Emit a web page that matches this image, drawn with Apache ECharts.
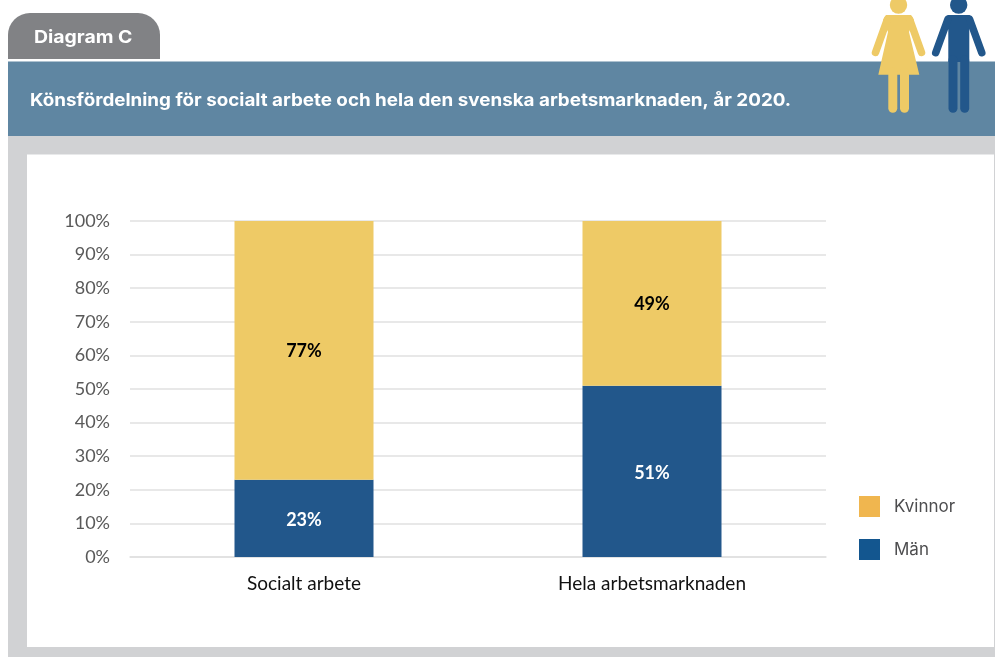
<!DOCTYPE html>
<html>
<head>
<meta charset="utf-8">
<title>Diagram C</title>
<style>html,body{margin:0;padding:0;background:#fff}#chart{width:995px;height:657px}</style>
<script src="https://cdn.jsdelivr.net/npm/echarts@6/dist/echarts.min.js"></script>
</head>
<body>
<div id="chart"></div>
<script>
const categories = ['Socialt arbete', 'Hela arbetsmarknaden'];
const men = [23, 51];
const women = [77, 49];
const seriesNames = ['Kvinnor', 'Män'];
const tabLabel = 'Diagram C';
const heading = 'Könsfördelning för socialt arbete och hela den svenska arbetsmarknaden, år 2020.';

const WOMAN = '#EECA66', MAN = '#22578B';
const sans = 'Inter, "Liberation Sans", Arial, sans-serif';
const chartFont = 'Lato, "Open Sans", sans-serif';

const limb = (x1, y1, x2, y2, color, width) => ({
  type: 'line', z: 5,
  shape: { x1, y1, x2, y2 },
  style: { stroke: color, lineWidth: width, lineCap: 'round' }
});
const head = (cx, color) => ({
  type: 'circle', z: 5, shape: { cx, cy: 5, r: 8.7 }, style: { fill: color }
});

const chart = echarts.init(document.getElementById('chart'), null, { renderer: 'canvas' });
chart.setOption({
  animation: false,
  backgroundColor: '#fff',
  graphic: { elements: [
    // page furniture: tab, heading band, grey frame, white panel
    { type: 'rect', z: -10, shape: { x: 8, y: 13, width: 152, height: 46, r: [22, 22, 0, 0] }, style: { fill: '#818285' } },
    { type: 'text', z: -9, x: 34, y: 37.5, scaleX: 1.11, style: { text: tabLabel, fill: '#fff', font: 'bold 17.5px ' + sans, verticalAlign: 'middle' } },
    { type: 'rect', z: -10, shape: { x: 8, y: 61.5, width: 987, height: 74.5 }, style: { fill: '#5F86A2' } },
    { type: 'text', z: -9, x: 30, y: 101, scaleX: 1.075, style: { text: heading, fill: '#fff', font: 'bold 17.5px ' + sans, verticalAlign: 'middle' } },
    { type: 'rect', z: -10, shape: { x: 8, y: 136, width: 987, height: 521 }, style: { fill: '#D1D2D4' } },
    { type: 'rect', z: -9, shape: { x: 27, y: 154.5, width: 967, height: 492.5 }, style: { fill: '#fff' } },
    // woman pictogram
    head(898.5, WOMAN),
    { type: 'polygon', z: 5, shape: { points: [[886, 15], [911, 15], [914, 20], [909, 32], [919.3, 74.7], [878.3, 74.7], [888, 32], [883, 20]] }, style: { fill: WOMAN } },
    limb(887.5, 19, 875.5, 52.5, WOMAN, 7.5),
    limb(909.5, 19, 921.5, 52.5, WOMAN, 7.5),
    limb(892.8, 72, 892.8, 108.2, WOMAN, 9),
    limb(904.5, 72, 904.5, 108.2, WOMAN, 9),
    // man pictogram
    head(958.7, MAN),
    { type: 'polygon', z: 5, shape: { points: [[948, 15], [969.5, 15], [972, 18], [969.3, 30], [969.3, 62], [948.3, 62], [948.3, 30], [945.5, 18]] }, style: { fill: MAN } },
    limb(948, 19, 935.7, 52.7, MAN, 7.5),
    limb(969.5, 19, 981.8, 52.7, MAN, 7.5),
    limb(953, 60, 953, 108.2, MAN, 9),
    limb(964.7, 60, 964.7, 108.2, MAN, 9)
  ] },
  legend: {
    orient: 'vertical', left: 859, top: 496, padding: 0,
    itemWidth: 21, itemHeight: 21, itemGap: 22, icon: 'rect',
    textStyle: { fontFamily: sans, fontSize: 17, color: '#4D4D4F', padding: [5, 0, 0, 9] },
    data: [
      { name: seriesNames[0], itemStyle: { color: '#F0B64F' } },
      { name: seriesNames[1], itemStyle: { color: '#13568F' } }
    ]
  },
  grid: { left: 130, right: 169, top: 221, bottom: 100 },
  xAxis: {
    type: 'category', data: categories,
    axisLine: { lineStyle: { color: '#E0E0E0', width: 1.5 } },
    axisTick: { show: false },
    axisLabel: { margin: 17, fontFamily: chartFont, fontSize: 19, color: '#111' }
  },
  yAxis: {
    type: 'value', min: 0, max: 100, interval: 10,
    axisLine: { show: false }, axisTick: { show: false },
    axisLabel: { formatter: '{value}%', margin: 20, padding: [2, 0, 0, 0], fontFamily: chartFont, fontSize: 18, color: '#595959' },
    splitLine: { lineStyle: { color: '#E0E0E0', width: 1.5 } }
  },
  series: [
    {
      name: seriesNames[1], type: 'bar', stack: 'total', data: men, barWidth: 139,
      itemStyle: { color: MAN },
      label: { show: true, position: 'inside', offset: [0, 2], formatter: '{c}%', fontFamily: chartFont, fontSize: 18, fontWeight: 'bold', color: '#fff' }
    },
    {
      name: seriesNames[0], type: 'bar', stack: 'total', data: women, barWidth: 139,
      itemStyle: { color: WOMAN },
      label: { show: true, position: 'inside', offset: [0, 1], formatter: '{c}%', fontFamily: chartFont, fontSize: 18, fontWeight: 'bold', color: '#000' }
    }
  ]
});
</script>
</body>
</html>
